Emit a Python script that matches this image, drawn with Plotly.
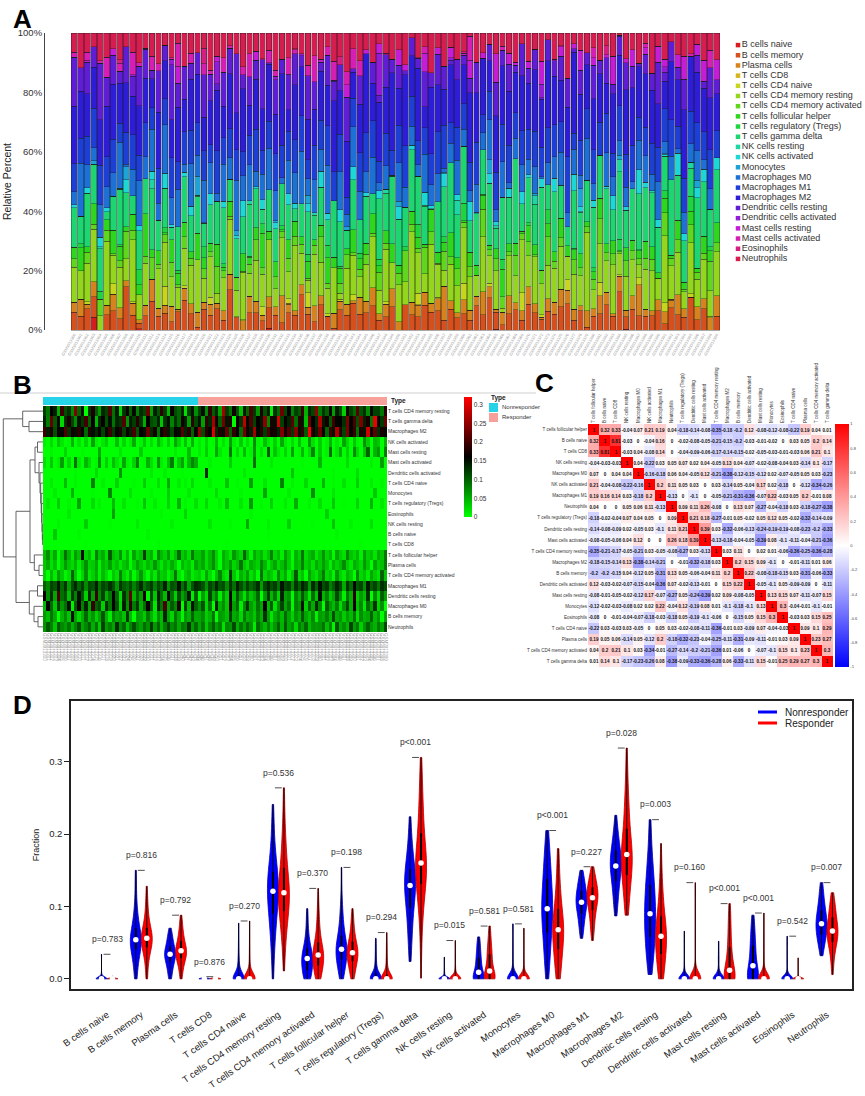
import colorsys
import numpy as np
import plotly.graph_objects as go

W, H = 865, 1096
FONT = "Liberation Sans, Arial, sans-serif"

cell_types = ["B cells naive", "B cells memory", "Plasma cells", "T cells CD8", "T cells CD4 naive",
              "T cells CD4 memory resting", "T cells CD4 memory activated", "T cells follicular helper",
              "T cells regulatory (Tregs)", "T cells gamma delta", "NK cells resting", "NK cells activated",
              "Monocytes", "Macrophages M0", "Macrophages M1", "Macrophages M2", "Dendritic cells resting",
              "Dendritic cells activated", "Mast cells resting", "Mast cells activated", "Eosinophils",
              "Neutrophils"]
groups = ["Nonresponder", "Responder"]

# estimated CIBERSORT fractions (x1000), nonresponders then responders
b_naive_nr = [0,0,0,34,0,0,0,0,0,0, 4,0,0,0,0,0,0,0,0,0, 0,0,0,0,0,0,0,0,0,0, 6,0,0,0,0,0,0,0,0,0, 0,0,0,0,0]
b_naive_r = [0,0,0,0,0,0,0,0,0,0, 0,0,0,0,0,0,0,0,0,0, 3,0,0,0,0,0,0,0,0,0, 0,0,0,0,0,0,0,0,0,0, 4,0,0,0,0,0,0,0,0,0, 0,0,0,0,0]
b_memory_nr = [62, 41, 88, 54, 0, 47, 73, 36, 150, 58, 22, 51, 95, 44, 67, 30, 56, 108, 49, 12, 78, 53, 64, 38, 125, 46, 0, 60, 55, 33, 82, 50, 18, 70, 42, 138, 57, 26, 86, 52, 5, 65, 48, 100, 54]
b_memory_r = [55, 72, 31, 48, 90, 0, 63, 57, 40, 118, 52, 66, 25, 84, 45, 59, 36, 77, 50, 128, 61, 15, 53, 70, 43, 95, 58, 28, 68, 49, 105, 56, 38, 74, 8, 62, 54, 80, 46, 112, 51, 65, 33, 60, 42, 87, 20, 71, 47, 55, 99, 44, 64, 0, 58]
plasma_nr = [34, 52, 18, 41, 0, 29, 63, 36, 22, 47, 12, 38, 70, 27, 33, 55, 8, 44, 31, 60, 25, 39, 16, 35, 49, 3, 30, 58, 37, 20, 43, 28, 66, 34, 14, 40, 24, 51, 32, 0, 45, 26, 36, 10, 57]
plasma_r = [38, 55, 21, 44, 70, 30, 0, 48, 35, 62, 26, 41, 88, 33, 17, 52, 39, 29, 75, 45, 12, 36, 58, 24, 40, 66, 31, 5, 47, 37, 80, 28, 43, 19, 53, 34, 60, 38, 9, 46, 27, 42, 72, 32, 15, 50, 39, 23, 64, 36, 0, 57, 30, 41, 84]
cd8_nr = [0,0,0,0,0,0,0,0,0,0, 0,0,2,0,0,0,0,0,0,0, 0,0,0,0,0,0,0,0,0,0, 0,0,0,3,0,0,0,0,0,0, 0,0,0,0,0]
cd8_r = [0,0,0,0,0,0,0,0,2,0, 0,0,0,0,0,0,0,0,0,0, 0,0,0,0,0,1,0,0,0,0, 0,0,0,0,0,0,0,0,0,0, 0,0,0,0,0,0,0,3,0,0, 0,0,0,0,0]
cd4_naive_nr = [0,0,12,0,0,0,40,0,0,5, 0,0,0,0,77,0,0,8,0,0, 0,25,0,0,0,0,3,0,0,30, 0,0,0,18,0,0,52,0,0,10, 0,6,0,22,0]
cd4_naive_r = [0,0,0,9,0,0,0,0,35,0, 0,4,0,0,0,60,0,0,0,14, 0,0,0,0,80,0,0,7,0,0, 0,22,0,0,0,0,45,0,0,3, 0,0,16,0,0,0,28,0,0,0, 11,0,0,5,0]
cd4_mem_rest_nr = [121, 85, 160, 140, 52, 198, 110, 131, 75, 241, 96, 150, 0, 128, 178, 104, 66, 136, 118, 210, 90, 145, 30, 125, 170, 100, 155, 81, 133, 116, 225, 60, 142, 108, 188, 123, 45, 165, 113, 95, 137, 20, 119, 148, 70]
cd4_mem_rest_r = [118, 152, 74, 190, 101, 135, 58, 264, 123, 88, 170, 112, 40, 146, 97, 205, 126, 67, 180, 109, 140, 11, 131, 92, 230, 115, 160, 80, 121, 105, 196, 50, 138, 116, 250, 84, 128, 99, 165, 62, 143, 113, 30, 175, 119, 95, 214, 107, 132, 72, 155, 118, 120, 86, 185]
cd4_mem_act_nr = [28, 0, 45, 12, 60, 33, 5, 20, 97, 38, 0, 25, 70, 15, 30, 52, 8, 42, 22, 0, 35, 18, 80, 28, 10, 48, 3, 31, 65, 24, 0, 40, 14, 55, 27, 36, 7, 29, 88, 19, 0, 32, 44, 11, 26]
cd4_mem_act_r = [33, 10, 56, 22, 0, 41, 78, 28, 15, 125, 36, 4, 49, 30, 62, 19, 38, 0, 90, 25, 44, 33, 12, 70, 27, 52, 8, 35, 105, 21, 40, 0, 58, 31, 17, 46, 84, 26, 37, 6, 65, 29, 14, 48, 34, 0, 74, 24, 39, 11, 55, 32, 18, 98, 36]
tfh_nr = [41, 70, 22, 55, 0, 33, 90, 48, 15, 62, 38, 154, 27, 44, 8, 80, 36, 52, 19, 105, 41, 30, 66, 12, 46, 0, 58, 25, 39, 122, 35, 50, 5, 74, 43, 29, 60, 17, 40, 95, 32, 47, 21, 85, 37]
tfh_r = [36, 58, 20, 44, 72, 28, 0, 50, 33, 13, 65, 38, 24, 97, 40, 6, 54, 31, 46, 17, 36, 80, 26, 42, 10, 60, 34, 0, 48, 29, 88, 22, 39, 52, 15, 35, 68, 27, 43, 3, 56, 32, 19, 76, 37, 25, 45, 9, 62, 30, 41, 16, 51, 36, 84]
treg_nr = [0,12,0,0,30,0,0,5,0,0, 56,0,0,0,20,0,8,0,0,0, 42,0,0,15,0,0,0,3,0,35, 0,0,10,0,0,0,25,0,0,48, 0,6,0,0,18]
treg_r = [0,0,22,0,0,0,9,0,40,0, 0,0,14,0,0,64,0,0,4,0, 0,28,0,0,0,11,0,0,50,0, 0,0,7,0,0,18,0,0,0,33, 0,0,2,0,0,0,25,0,0,0, 45,0,0,13,0]
gd_nr = [136, 82, 224, 105, 155, 24, 131, 178, 118, 73, 148, 124, 200, 98, 160, 45, 133, 166, 110, 150, 88, 138, 127, 212, 68, 145, 121, 184, 126, 52, 162, 112, 102, 140, 36, 129, 152, 78, 129, 95, 170, 142, 60, 188, 115]
gd_r = [150, 60, 190, 135, 262, 168, 100, 230, 146, 182, 1, 171, 128, 280, 155, 210, 118, 162, 145, 248, 75, 178, 152, 290, 120, 167, 138, 214, 92, 185, 149, 40, 226, 160, 132, 270, 143, 173, 105, 198, 157, 163, 130, 235, 159, 205, 110, 240, 140, 175, 85, 306, 165, 125, 222]
nk_rest_nr = [0,0,0,0,6,0,0,0,0,0, 0,0,30,0,0,0,0,0,0,3, 0,0,0,0,0,0,0,12,0,0, 0,0,0,0,0,0,0,8,0,0, 0,0,0,0,0]
nk_rest_r = [0,0,0,15,0,0,0,0,0,4, 0,0,0,0,53,0,0,0,0,0, 9,0,0,0,0,0,28,0,0,0, 0,0,0,2,0,0,0,0,0,35, 0,0,0,0,7,0,0,0,0,0, 18,0,0,0,0]
nk_act_nr = [9, 0, 22, 0, 35, 13, 0, 4, 46, 0, 18, 0, 27, 0, 58, 8, 0, 15, 30, 0, 2, 40, 0, 24, 0, 11, 52, 0, 6, 33, 0, 20, 0, 43, 16, 0, 29, 0, 55, 25, 0, 38, 0, 49, 0]
nk_act_r = [12, 0, 26, 0, 3, 45, 0, 17, 0, 62, 9, 0, 33, 0, 20, 0, 73, 5, 0, 39, 14, 0, 28, 0, 53, 11, 0, 22, 0, 41, 2, 0, 65, 19, 0, 31, 0, 8, 47, 0, 15, 0, 56, 24, 0, 35, 6, 0, 69, 30, 0, 43, 37, 0, 50]
mono_nr = [0,0,0,10,0,0,0,0,45,0, 0,0,0,0,3,0,0,0,0,76, 0,0,0,0,0,18,0,0,0,0, 0,6,0,0,0,0,30,0,0,0, 0,0,12,0,0]
mono_r = [0,0,0,0,0,20,0,0,0,0, 0,0,4,0,0,0,0,0,0,55, 0,0,0,0,0,0,9,0,0,0, 0,0,0,70,0,0,0,0,0,14, 0,0,0,0,0,0,2,0,0,0, 0,33,0,0,0]
m0_nr = [45, 160, 95, 35, 118, 64, 90, 148, 8, 102, 172, 79, 138, 55, 195, 97, 115, 30, 130, 85, 158, 110, 25, 142, 68, 190, 82, 125, 50, 92, 165, 100, 15, 135, 88, 205, 60, 105, 75, 180, 0, 120, 40, 150, 97]
m0_r = [68, 110, 25, 85, 0, 140, 50, 72, 35, 180, 60, 95, 10, 78, 125, 62, 40, 88, 55, 160, 45, 102, 18, 70, 118, 58, 90, 5, 80, 66, 150, 30, 98, 52, 132, 74, 0, 105, 64, 42, 82, 22, 68, 115, 48, 170, 38, 76, 15, 92, 56, 128, 28, 70, 0]
m1_nr = [98, 75, 118, 104, 145, 92, 128, 62, 112, 136, 96, 122, 72, 114, 106, 142, 84, 117, 102, 130, 109, 65, 126, 101, 90, 113, 78, 105, 134, 86, 106, 125, 80, 115, 95, 140, 68, 110, 100, 150, 88, 120, 56, 108, 132]
m1_r = [125, 109, 67, 117, 97, 135, 104, 113, 73, 127, 90, 142, 111, 82, 119, 94, 108, 132, 60, 115, 136, 107, 123, 88, 148, 112, 121, 76, 128, 99, 140, 118, 64, 134, 96, 150, 110, 124, 80, 102, 138, 114, 53, 126, 92, 155, 105, 116, 70, 145, 100, 120, 85, 130, 112]
m2_nr = [198, 142, 178, 110, 166, 156, 210, 128, 172, 150, 188, 160, 95, 182, 153, 135, 167, 118, 155, 195, 125, 156, 180, 120, 170, 140, 205, 105, 162, 148, 226, 132, 175, 87, 158, 192, 145, 115, 168, 152, 214, 138, 185, 98, 164]
m2_r = [255, 112, 186, 164, 300, 135, 178, 152, 222, 100, 192, 160, 92, 232, 172, 142, 262, 156, 185, 122, 205, 168, 175, 138, 240, 170, 210, 125, 245, 150, 190, 105, 319, 176, 140, 228, 162, 95, 200, 148, 270, 180, 118, 236, 158, 195, 88, 183, 145, 290, 166, 218, 132, 174, 155]
dc_rest_nr = [168, 70, 130, 55, 205, 90, 110, 40, 125, 78, 150, 105, 28, 135, 62, 195, 72, 120, 50, 85, 160, 95, 20, 128, 80, 220, 45, 100, 60, 175, 6, 115, 35, 140, 90, 42, 155, 88, 30, 112, 58, 82, 145, 12, 98]
dc_rest_r = [0, 62, 22, 118, 52, 83, 10, 67, 30, 165, 42, 104, 59, 18, 73, 36, 54, 96, 0, 66, 122, 44, 88, 25, 140, 57, 70, 3, 78, 48, 108, 61, 14, 92, 38, 150, 46, 80, 33, 55, 115, 68, 8, 85, 50, 187, 28, 64, 40, 130, 0, 75, 20, 100, 59]
dc_act_nr = [0,0,0,0,0,0,0,0,0,5, 0,0,0,0,0,20,0,0,0,0, 0,0,66,0,0,0,0,0,0,0, 0,12,0,0,0,8,0,0,0,0, 3,0,0,0,0]
dc_act_r = [0,0,133,0,0,0,0,0,0,0, 0,0,0,10,0,0,0,0,0,0, 0,0,0,0,0,0,0,35,0,0, 0,0,0,0,0,0,0,0,0,4, 0,0,0,0,0,0,18,0,0,0, 0,0,0,0,0]
mast_rest_nr = [0,0,8,0,0,0,25,0,0,0, 0,4,0,0,0,0,52,0,0,0, 0,0,15,0,0,0,0,0,30,0, 0,0,0,2,0,0,0,0,10,0, 0,0,40,0,0]
mast_rest_r = [12, 0, 30, 0, 0, 56, 14, 0, 2, 88, 0, 22, 0, 42, 0, 6, 68, 0, 18, 0, 104, 0, 36, 10, 0, 26, 0, 60, 0, 4, 45, 0, 20, 77, 0, 33, 0, 8, 94, 0, 16, 52, 0, 28, 0, 72, 24, 0, 39, 99, 0, 48, 64, 0, 82]
mast_act_nr = [18, 0, 35, 0, 9, 62, 0, 25, 0, 88, 13, 0, 46, 22, 0, 5, 70, 0, 30, 0, 40, 15, 0, 55, 7, 0, 27, 80, 0, 3, 49, 20, 0, 66, 11, 0, 38, 84, 0, 32, 58, 0, 43, 75, 52]
mast_act_r = [0,0,0,6,0,0,0,0,0,30, 0,0,0,0,0,0,91,0,0,0, 0,12,0,0,0,0,0,0,0,0, 3,0,0,0,0,45,0,0,0,0, 0,0,0,20,0,0,0,0,0,0, 8,0,0,60,0]
eos_nr = [0,0,0,0,0,0,0,12,0,0, 0,0,0,0,0,0,0,0,0,0, 59,0,0,0,0,0,0,0,0,0, 0,0,0,0,4,0,0,0,0,0, 0,25,0,0,0]
eos_r = [0,0,0,0,0,0,0,0,0,0, 0,0,0,0,0,6,0,0,0,0, 0,0,0,0,0,0,0,0,0,0, 0,0,0,0,0,0,0,29,0,0, 0,0,0,0,0,0,0,0,0,0, 0,0,0,0,0]
neut_nr = [66, 105, 79, 36, 102, 74, 61, 86, 48, 75, 112, 54, 76, 100, 50, 88, 32, 120, 62, 80, 56, 133, 70, 95, 40, 78, 110, 73, 58, 92, 68, 125, 64, 98, 45, 82, 115, 72, 90, 52, 85, 76, 128, 60, 94]
neut_r = [54, 88, 34, 72, 102, 61, 80, 18, 75, 66, 115, 50, 86, 58, 95, 69, 12, 92, 64, 44, 76, 38, 65, 100, 47, 105, 55, 73, 24, 81, 59, 96, 42, 67, 62, 66, 90, 40, 78, 6, 108, 52, 70, 45, 119, 60, 84, 28, 68, 98, 63, 48, 82, 57, 112]

nr_lists = [b_naive_nr, b_memory_nr, plasma_nr, cd8_nr, cd4_naive_nr, cd4_mem_rest_nr, cd4_mem_act_nr,
            tfh_nr, treg_nr, gd_nr, nk_rest_nr, nk_act_nr, mono_nr, m0_nr, m1_nr, m2_nr, dc_rest_nr,
            dc_act_nr, mast_rest_nr, mast_act_nr, eos_nr, neut_nr]
r_lists = [b_naive_r, b_memory_r, plasma_r, cd8_r, cd4_naive_r, cd4_mem_rest_r, cd4_mem_act_r,
           tfh_r, treg_r, gd_r, nk_rest_r, nk_act_r, mono_r, m0_r, m1_r, m2_r, dc_rest_r,
           dc_act_r, mast_rest_r, mast_act_r, eos_r, neut_r]

# panel B: row order after clustering, dendrogram merges (left, right, height)
heatmap_rows = ["T cells CD4 memory resting", "T cells gamma delta", "Macrophages M2", "NK cells activated",
                "Mast cells resting", "Mast cells activated", "Dendritic cells activated", "T cells CD4 naive",
                "Monocytes", "T cells regulatory (Tregs)", "Eosinophils", "NK cells resting", "B cells naive",
                "T cells CD8", "T cells follicular helper", "Plasma cells", "T cells CD4 memory activated",
                "Macrophages M1", "Dendritic cells resting", "Macrophages M0", "B cells memory", "Neutrophils"]
dendro_links = [(1, 2, 14.0), (0, 22, 20.3), (3, 4, 5.5), (12, 13, 0.4), (11, 25, 0.7), (10, 26, 1.0),
                (9, 27, 1.4), (8, 28, 1.8), (7, 29, 2.3), (6, 30, 3.0), (5, 31, 4.0), (24, 32, 8.0),
                (15, 16, 4.0), (14, 34, 8.7), (33, 35, 13.0), (17, 18, 5.5), (20, 21, 5.0), (19, 38, 9.0),
                (37, 39, 13.7), (36, 40, 27.0), (23, 41, 39.7)]

# panel C
corr_order = ["T cells follicular helper", "B cells naive", "T cells CD8", "NK cells resting", "Macrophages M0",
              "NK cells activated", "Macrophages M1", "Neutrophils", "T cells regulatory (Tregs)",
              "Dendritic cells resting", "Mast cells activated", "T cells CD4 memory resting", "Macrophages M2",
              "B cells memory", "Dendritic cells activated", "Mast cells resting", "Monocytes", "Eosinophils",
              "T cells CD4 naive", "Plasma cells", "T cells CD4 memory activated", "T cells gamma delta"]
corr_values = [
    [1, 0.32, 0.33, -0.04, 0.07, 0.21, 0.19, 0.04, -0.18, -0.14, -0.08, -0.35, -0.18, -0.2, 0.12, -0.08, -0.12, -0.08, -0.22, 0.19, 0.04, 0.01],
    [0.32, 1, 0.81, -0.03, 0, -0.04, 0.16, 0, -0.02, -0.08, -0.05, -0.21, -0.15, -0.2, -0.03, -0.01, -0.02, 0, 0.03, 0.05, 0.2, 0.14],
    [0.33, 0.81, 1, -0.03, 0.04, -0.08, 0.14, 0, -0.04, -0.09, -0.06, -0.17, -0.14, -0.15, -0.02, -0.05, -0.03, -0.01, -0.03, 0.06, 0.21, 0.1],
    [-0.04, -0.03, -0.03, 1, 0.04, -0.22, 0.03, 0.05, 0.07, 0.02, 0.04, -0.05, 0.13, 0.04, -0.07, -0.02, -0.08, -0.04, 0.03, -0.14, 0.1, -0.17],
    [0.07, 0, 0.04, 0.04, 1, -0.16, -0.18, 0.06, 0.04, -0.05, 0.12, -0.21, -0.38, -0.12, -0.15, -0.12, 0.02, -0.07, -0.05, 0.05, 0.03, -0.23],
    [0.21, -0.04, -0.08, -0.22, -0.16, 1, 0.2, 0.11, 0.05, 0.03, 0, 0.03, -0.14, 0.05, -0.04, 0.17, 0.02, -0.18, 0, -0.12, -0.34, -0.26],
    [0.19, 0.16, 0.14, 0.03, -0.18, 0.2, 1, -0.13, 0, -0.1, 0, -0.05, -0.21, -0.31, -0.36, -0.07, 0.22, -0.03, 0.05, 0.2, -0.01, 0.08],
    [0.04, 0, 0, 0.05, 0.06, 0.11, -0.13, 1, 0.09, 0.11, 0.26, -0.08, 0, 0.13, 0.07, -0.27, -0.04, -0.18, 0.03, -0.18, -0.27, -0.38],
    [-0.18, -0.02, -0.04, 0.07, 0.04, 0.05, 0, 0.09, 1, 0.21, 0.18, -0.27, -0.01, 0.05, -0.02, 0.05, 0.12, 0.05, -0.02, -0.32, -0.14, -0.09],
    [-0.14, -0.08, -0.09, 0.02, -0.05, 0.03, -0.1, 0.11, 0.21, 1, 0.39, 0.03, -0.32, -0.06, -0.13, -0.24, -0.19, -0.19, -0.08, -0.23, -0.2, -0.33],
    [-0.08, -0.05, -0.06, 0.04, 0.12, 0, 0, 0.26, 0.18, 0.39, 1, -0.13, -0.18, -0.04, -0.05, -0.39, 0.08, -0.1, -0.11, -0.04, -0.21, -0.36],
    [-0.35, -0.21, -0.17, -0.05, -0.21, 0.03, -0.05, -0.08, -0.27, 0.03, -0.13, 1, 0.03, 0.11, 0, 0.02, 0.01, -0.06, -0.36, -0.25, -0.36, -0.28],
    [-0.18, -0.15, -0.14, 0.13, -0.38, -0.14, -0.21, 0, -0.01, -0.32, -0.18, 0.03, 1, 0.2, 0.15, 0.09, -0.1, 0, -0.01, -0.11, 0.01, 0.06],
    [-0.2, -0.2, -0.15, 0.04, -0.12, 0.05, -0.31, 0.13, 0.05, -0.06, -0.04, 0.11, 0.2, 1, 0.22, -0.08, -0.18, -0.15, 0.03, -0.31, -0.06, -0.33],
    [0.12, -0.03, -0.02, -0.07, -0.15, -0.04, -0.36, 0.07, -0.02, -0.13, -0.01, 0, 0.15, 0.22, 1, -0.05, -0.1, 0.05, -0.09, -0.09, 0, -0.11],
    [-0.08, -0.01, -0.05, -0.02, -0.12, 0.17, -0.07, -0.27, 0.05, -0.24, -0.39, 0.02, 0.09, -0.08, -0.05, 1, 0.13, 0.15, 0.07, -0.11, -0.07, 0.15],
    [-0.12, -0.02, -0.03, -0.08, 0.02, 0.02, 0.22, -0.04, 0.12, -0.19, 0.08, 0.01, -0.1, -0.18, -0.1, 0.13, 1, 0.3, -0.04, -0.01, -0.1, -0.01],
    [-0.08, 0, -0.01, -0.04, -0.07, -0.18, -0.03, -0.18, 0.05, -0.19, -0.1, -0.06, 0, -0.15, 0.05, 0.15, 0.3, 1, -0.03, 0.03, 0.15, 0.25],
    [-0.22, 0.03, -0.03, 0.03, -0.05, 0, 0.05, 0.03, -0.02, -0.08, -0.11, -0.36, -0.01, 0.03, -0.09, 0.07, -0.04, -0.03, 1, 0.09, 0.1, 0.29],
    [0.19, 0.05, 0.06, -0.14, 0.05, -0.12, 0.2, -0.18, -0.32, -0.23, -0.04, -0.25, -0.11, -0.31, -0.09, -0.11, -0.01, 0.03, 0.09, 1, 0.23, 0.27],
    [0.04, 0.2, 0.21, 0.1, 0.03, -0.34, -0.01, -0.27, -0.14, -0.2, -0.21, -0.36, 0.01, -0.06, 0, -0.07, -0.1, 0.15, 0.1, 0.23, 1, 0.3],
    [0.01, 0.14, 0.1, -0.17, -0.23, -0.26, 0.08, -0.38, -0.09, -0.33, -0.36, -0.28, 0.06, -0.33, -0.11, 0.15, -0.01, 0.25, 0.29, 0.27, 0.3, 1],
]
corr_ticks = [-1, -0.8, -0.6, -0.4, -0.2, 0, 0.2, 0.4, 0.6, 0.8, 1]

# panel D
p_labels = ["p=0.783", "p=0.816", "p=0.792", "p=0.876", "p=0.270", "p=0.536", "p=0.370", "p=0.198",
            "p=0.294", "p<0.001", "p=0.015", "p=0.581", "p=0.581", "p<0.001", "p=0.227", "p=0.028",
            "p=0.003", "p=0.160", "p<0.001", "p<0.001", "p=0.542", "p=0.007"]
frac_ticks = [0, 0.1, 0.2, 0.3]
heat_ticks = [0, 0.05, 0.1, 0.15, 0.2, 0.25, 0.3]


def px(x):
    return x / W


def py(y):
    return 1 - y / H


n_nr, n_r = len(b_naive_nr), len(b_naive_r)
n = n_nr + n_r
frac = [np.array(a + b, dtype=float) / 1000 for a, b in zip(nr_lists, r_lists)]
sample_ids = ["GSM%d" % (3913300 + i) for i in range(n)]

colors = []
for k in range(len(cell_types)):
    r, g, b = colorsys.hsv_to_rgb(k / len(cell_types), 0.86, 0.84)
    colors.append("rgb(%d,%d,%d)" % (r * 255, g * 255, b * 255))

fig = go.Figure()

# ---------------- A: stacked bars
for k, name in enumerate(cell_types):
    fig.add_trace(go.Bar(x=list(range(n)), y=frac[k], name=name, showlegend=False,
                         marker=dict(color=colors[k], line=dict(color="#1a1a1a", width=0.35)),
                         xaxis="x", yaxis="y"))

fig.add_trace(go.Scatter(x=[0] * len(cell_types), y=list(range(len(cell_types))), mode="markers+text",
                         marker=dict(symbol="square", size=4.5, color=colors), text=cell_types,
                         textposition="middle right", textfont=dict(size=9, color="#333"),
                         hoverinfo="skip", showlegend=False, xaxis="x2", yaxis="y2"))

# ---------------- B: annotation bar, heatmap, dendrogram
type_code = [0] * n_nr + [1] * n_r
fig.add_trace(go.Heatmap(z=[type_code], x=list(range(n)), zmin=0, zmax=1, showscale=False,
                         colorscale=[[0, "#27d3e8"], [0.5, "#27d3e8"], [0.5, "#f8a19b"], [1, "#f8a19b"]],
                         xaxis="x3", yaxis="y3", hoverinfo="skip"))

z_b = [frac[cell_types.index(r)] for r in heatmap_rows]
fig.add_trace(go.Heatmap(z=z_b, x=list(range(n)), y=list(range(len(heatmap_rows))), zmin=0, zmax=0.32,
                         colorscale=[[0, "#00ff00"], [0.5, "#000000"], [1, "#ff0000"]],
                         colorbar=dict(x=px(464), xanchor="left", y=py(397), yanchor="top", len=120 / H,
                                       thickness=8, xpad=0, ypad=0, outlinewidth=0, tickvals=heat_ticks,
                                       ticktext=["%g" % v for v in heat_ticks], ticks="",
                                       tickfont=dict(size=6.5, color="#333")),
                         xaxis="x4", yaxis="y4"))

node_y = {k: float(k) for k in range(len(heatmap_rows))}
node_h = {k: 0.0 for k in range(len(heatmap_rows))}
dx, dy = [], []
for j, (a, b, h) in enumerate(dendro_links):
    dx += [node_h[a], h, h, node_h[b], None]
    dy += [node_y[a], node_y[a], node_y[b], node_y[b], None]
    nid = len(heatmap_rows) + j
    node_y[nid] = (node_y[a] + node_y[b]) / 2
    node_h[nid] = h
fig.add_trace(go.Scatter(x=dx, y=dy, mode="lines", line=dict(color="#555", width=0.9),
                         hoverinfo="skip", showlegend=False, xaxis="x5", yaxis="y5"))

# ---------------- C: correlation heatmap
corr_text = [["%g" % v for v in row] for row in corr_values]
fig.add_trace(go.Heatmap(z=corr_values, x=list(range(len(corr_order))), y=list(range(len(corr_order))),
                         zmin=-1, zmax=1, text=corr_text, texttemplate="%{text}",
                         textfont=dict(size=4.6, color="#111", family=FONT, weight="bold"),
                         colorscale=[[0, "#0000ff"], [0.5, "#ffffff"], [1, "#ff0000"]],
                         colorbar=dict(x=px(835), xanchor="left", y=py(424), yanchor="top", len=243 / H,
                                       thickness=14, xpad=0, ypad=0, outlinewidth=0, tickvals=corr_ticks,
                                       ticktext=["%g" % v for v in corr_ticks], ticks="",
                                       tickfont=dict(size=4, color="#444")),
                         xaxis="x6", yaxis="y6"))

# ---------------- D: violins, one trace per group and cell type
off = 0.16
for gi, (lo, hi, fill, edge) in enumerate([(0, n_nr, "#0000ff", "#0000b0"), (n_nr, n, "#ff0000", "#b00000")]):
    sign = -1 if gi == 0 else 1
    wx, wy, bx, by, mx, my = [], [], [], [], [], []
    for i in range(len(cell_types)):
        vals = frac[i][lo:hi]
        pos = i + sign * off
        bw = max(1.06 * vals.std(ddof=1) * len(vals) ** -0.2, 0.001)  # normal-reference bandwidth
        fig.add_trace(go.Violin(x0=pos, y=vals, name=groups[gi], width=0.32, scalemode="width",
                                scalegroup="v%d_%d" % (gi, i), spanmode="hard", bandwidth=bw, points=False,
                                fillcolor=fill, line=dict(color=edge, width=0.8), opacity=1,
                                box_visible=False, meanline_visible=False, hoverinfo="skip",
                                showlegend=False, xaxis="x7", yaxis="y7"))
        q1, med, q3 = np.percentile(vals, [25, 50, 75])
        wx += [pos, pos, None]
        wy += [vals.min(), vals.max(), None]
        bx += [pos, pos, None]
        by += [q1, q3, None]
        mx.append(pos)
        my.append(med)
    fig.add_trace(go.Scatter(x=wx, y=wy, mode="lines", line=dict(color="black", width=0.9),
                             hoverinfo="skip", showlegend=False, xaxis="x7", yaxis="y7"))
    fig.add_trace(go.Scatter(x=bx, y=by, mode="lines", line=dict(color="black", width=2),
                             hoverinfo="skip", showlegend=False, xaxis="x7", yaxis="y7"))
    fig.add_trace(go.Scatter(x=mx, y=my, mode="markers", marker=dict(color="white", size=5.5),
                             hoverinfo="skip", showlegend=False, xaxis="x7", yaxis="y7"))

tops = [f.max() for f in frac]
sx, sy = [], []
annotations = []
for i, t in enumerate(tops):
    sx += [i - 0.1, i + 0.1, None]
    sy += [t, t, None]
    annotations.append(dict(x=i, y=t + 0.021, xref="x7", yref="y7", text=p_labels[i], showarrow=False,
                            font=dict(size=8.5, color="#333")))
fig.add_trace(go.Scatter(x=sx, y=sy, mode="lines", line=dict(color="#222", width=0.8),
                         hoverinfo="skip", showlegend=False, xaxis="x7", yaxis="y7"))

# panel letters and legend texts
for letter, (lx, ly) in zip("ABCD", [(11, 2), (11, 368), (533, 366), (11, 688)]):
    annotations.append(dict(x=px(lx), y=py(ly), xref="paper", yref="paper", xanchor="left", yanchor="top",
                            text="<b>%s</b>" % letter, showarrow=False,
                            font=dict(size=26, color="black", family="Liberation Sans Narrow, " + FONT)))
annotations.append(dict(x=px(389), y=py(401), xref="paper", yref="paper", xanchor="left", text="<b>Type</b>",
                        showarrow=False, font=dict(size=6.5, color="#222")))
annotations.append(dict(x=px(489), y=py(398), xref="paper", yref="paper", xanchor="left", text="<b>Type</b>",
                        showarrow=False, font=dict(size=6.5, color="#222")))
shapes = [dict(type="line", xref="paper", yref="paper", x0=0, x1=px(536), y0=py(393), y1=py(393),
               line=dict(color="#cfcfcf", width=1))]
for g, (gy, col) in enumerate([(407.5, "#27d3e8"), (417.5, "#f8a19b")]):
    shapes.append(dict(type="rect", xref="paper", yref="paper", x0=px(489), x1=px(498), y0=py(gy - 4.5),
                       y1=py(gy + 4.5), fillcolor=col, line=dict(width=0)))
    annotations.append(dict(x=px(500), y=py(gy), xref="paper", yref="paper", xanchor="left", text=groups[g],
                            showarrow=False, font=dict(size=6, color="#333")))
for g, (gy, col) in enumerate([(712, "#0000ff"), (723, "#ff0000")]):
    shapes.append(dict(type="line", xref="paper", yref="paper", x0=px(758), x1=px(777), y0=py(gy), y1=py(gy),
                       line=dict(color=col, width=3)))
    annotations.append(dict(x=px(783), y=py(gy), xref="paper", yref="paper", xanchor="left", text=groups[g],
                            showarrow=False, font=dict(size=10, color="#222")))


def ax(**kw):
    base = dict(showgrid=False, zeroline=False, showline=False, ticks="", automargin=False)
    base.update(kw)
    return base


hidden = dict(showticklabels=False)
fig.update_layout(
    width=W, height=H, margin=dict(l=0, r=0, t=0, b=0), template="none",
    paper_bgcolor="white", plot_bgcolor="white", font=dict(family=FONT, color="#222"),
    barmode="stack", barnorm="percent", bargap=0.12, showlegend=False, violinmode="overlay",
    annotations=annotations, shapes=shapes,
    xaxis=ax(domain=[px(71), px(720)], anchor="y", range=[-0.5, n - 0.5], tickvals=list(range(n)),
             ticktext=sample_ids, tickangle=-60, tickfont=dict(size=4, color="#999"),
             showline=True, linecolor="#aaa", linewidth=0.8),
    yaxis=ax(domain=[py(330), py(33)], anchor="free", position=px(44), range=[0, 100],
             tickvals=[0, 20, 40, 60, 80, 100], ticktext=["0%", "20%", "40%", "60%", "80%", "100%"],
             tickfont=dict(size=9.5, color="#333"), showline=True, linecolor="#444", linewidth=1,
             title=dict(text="Relative Percent", font=dict(size=10.5, color="#222"), standoff=3)),
    xaxis2=ax(domain=[px(735), 1], anchor="y2", range=[-3, 127], **hidden),
    yaxis2=ax(domain=[py(264), py(40)], anchor="x2", range=[21.5, -0.5], **hidden),
    xaxis3=ax(domain=[px(43), px(387)], anchor="y3", range=[-0.5, n - 0.5], **hidden),
    yaxis3=ax(domain=[py(405), py(397)], anchor="x3", range=[-0.5, 0.5], **hidden),
    xaxis4=ax(domain=[px(43), px(387)], anchor="y4", range=[-0.5, n - 0.5], tickvals=list(range(n)),
              ticktext=sample_ids, tickangle=90, tickfont=dict(size=4.5, color="#999")),
    yaxis4=ax(domain=[py(632), py(406)], anchor="x4", side="right", range=[len(heatmap_rows) - 0.5, -0.5],
              tickvals=list(range(len(heatmap_rows))), ticktext=heatmap_rows, tickfont=dict(size=5, color="#333")),
    xaxis5=ax(domain=[0, px(43)], anchor="y5", range=[43, 0], **hidden),
    yaxis5=ax(domain=[py(632), py(406)], anchor="x5", range=[len(heatmap_rows) - 0.5, -0.5], **hidden),
    xaxis6=ax(domain=[px(588), px(833)], anchor="y6", side="top", range=[-0.5, len(corr_order) - 0.5],
              tickvals=list(range(len(corr_order))), ticktext=corr_order, tickangle=-90,
              tickfont=dict(size=4.5, color="#333")),
    yaxis6=ax(domain=[py(667), py(424)], anchor="x6", range=[len(corr_order) - 0.5, -0.5],
              tickvals=list(range(len(corr_order))), ticktext=corr_order, tickfont=dict(size=4.5, color="#333")),
    xaxis7=ax(domain=[px(71), px(852)], anchor="y7", range=[-1.05, 21.73], tickvals=list(range(len(cell_types))),
              ticktext=cell_types, tickangle=-35, tickfont=dict(size=9.5, color="#222"), ticklabelstandoff=15,
              showline=True, mirror=True, linecolor="#222", linewidth=1.5),
    yaxis7=ax(domain=[py(989), py(701)], anchor="x7", range=[-0.014, 0.384], tickvals=frac_ticks,
              ticktext=["%.1f" % v for v in frac_ticks], ticks="outside", ticklen=5, tickcolor="#222",
              tickfont=dict(size=9.5, color="#222"), showline=True, mirror=True, linecolor="#222", linewidth=1.5,
              title=dict(text="Fraction", font=dict(size=9, color="#222"), standoff=8)),
)

fig.write_html("out.html", config={"displayModeBar": False},
               post_script="document.body.style.margin='0';")
